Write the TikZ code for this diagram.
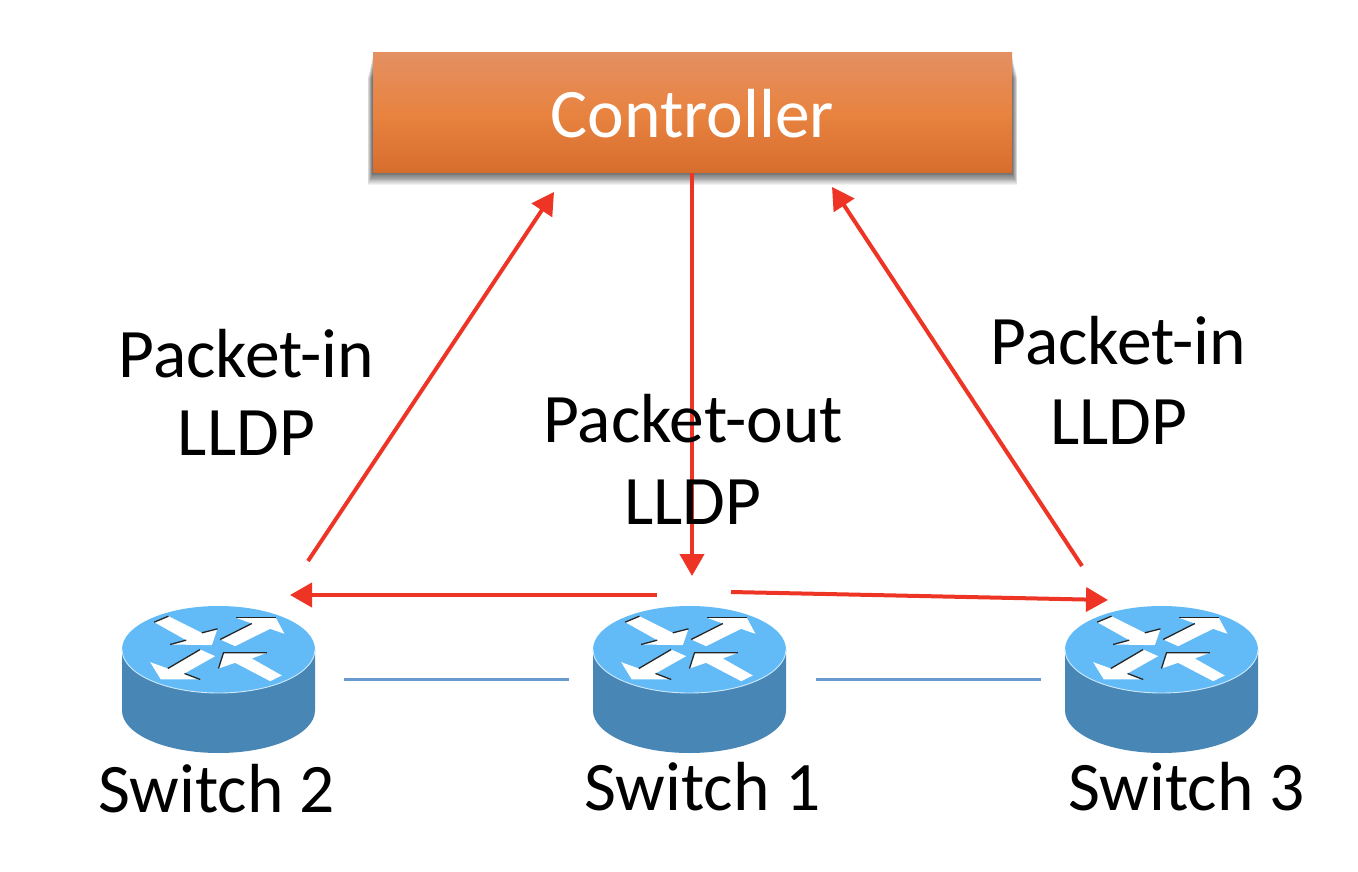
\documentclass[tikz,border=0pt]{standalone}
\usepackage{fontspec}
\setmainfont{Carlito}
\usetikzlibrary{arrows.meta}
\definecolor{redline}{HTML}{EE3424}
\definecolor{blueline}{HTML}{6A9BD0}
\definecolor{swtop}{HTML}{62BAF7}
\definecolor{swside}{HTML}{4886B5}
\definecolor{ctop}{HTML}{E49062}
\definecolor{cmid}{HTML}{E88340}
\definecolor{cbot}{HTML}{D76D2D}
\tikzset{
  redarrow/.style={draw=redline,line width=4pt,-{Triangle[length=22pt,width=24pt]}},
  blueconn/.style={draw=blueline,line width=3.6pt},
  label/.style={anchor=base,inner sep=0pt,font=\fontsize{69.5}{80}\selectfont,text=black},
  swbox/.style={inner sep=0pt,minimum width=193pt,minimum height=147pt,rectangle},
  swarrow/.style={fill=white,draw=none},
  swedge/.style={draw=black!85,line width=1.3pt},
}
\newcommand{\swicon}[1]{%
  \begin{scope}[shift={(#1,649.5)}]
    \fill[swside] (-96.5,0) -- (-96.5,61) arc[start angle=180,end angle=360,x radius=96.5pt,y radius=42.5pt] -- (96.5,0) -- cycle;
    \fill[swtop] (0,0) ellipse[x radius=96.5pt,y radius=43.5pt];
    \draw[white!70!swtop,line width=0.9pt] (-96.5,0) arc[start angle=180,end angle=360,x radius=96.5pt,y radius=43.5pt];
    \begin{scope}[shift={(-118.33,-70)},scale=0.3333]
      \fill[swarrow] (162,128) -- (205,110) -- (305,160) -- (352,148) -- (335,197) -- (210,195) -- (258,182) -- cycle;
      \fill[swarrow] (360,180) -- (455,132) -- (408,115) -- (527,115) -- (553,163) -- (510,148) -- (405,200) -- cycle;
      \fill[swarrow] (345,230) -- (300,210) -- (203,267) -- (150,248) -- (182,300) -- (300,300) -- (253,282) -- cycle;
      \fill[swarrow] (355,267) -- (370,220) -- (500,220) -- (455,237) -- (545,288) -- (510,305) -- (405,250) -- cycle;
      \draw[swedge] (162,128) -- (205,110);
      \draw[swedge] (305,160) -- (352,148);
      \draw[swedge] (210,195) -- (258,182);
      \draw[swedge] (408,115) -- (527,115);
      \draw[swedge] (360,180) -- (455,132);
      \draw[swedge] (300,210) -- (203,267);
      \draw[swedge] (253,282) -- (300,300);
      \draw[swedge] (355,267) -- (370,220) -- (500,220);
    \end{scope}
  \end{scope}}
\begin{document}
\begin{tikzpicture}[x=1pt,y=-1pt]
  \useasboundingbox (0,0) rectangle (1358,872);
  % controller shadow: layers widen and lengthen outward, fading at the rim
  \foreach \k in {0,1,...,15}{
    \fill[black,opacity=0.055] (373-0.35*\k,54+1.6*\k) rectangle (1012+0.35*\k,172+0.85*\k);
  }
  \node[rectangle,inner sep=0pt,minimum width=639pt,minimum height=120pt,
        top color=ctop,bottom color=cbot,middle color=cmid] (ctrl) at (692.5,113) {};
  % switches
  \swicon{218.5}
  \swicon{689.5}
  \swicon{1161.5}
  \node[swbox] (sw2) at (218.5,679.5) {};
  \node[swbox] (sw1) at (689.5,679.5) {};
  \node[swbox] (sw3) at (1161.5,679.5) {};
  % free ends of connectors
  \coordinate (a2s) at (308,561);
  \coordinate (a2e) at (554,192);
  \coordinate (a3s) at (1082,566);
  \coordinate (a3e) at (832,187);
  \coordinate (a1e) at (692,576);
  \coordinate (l2s) at (657,595);
  \coordinate (l2e) at (290,595);
  \coordinate (l3s) at (731,592);
  \coordinate (l3e) at (1108,600);
  % connectors
  \draw[blueconn,shorten <=29pt,shorten >=24pt] (sw2.east) -- (sw1.west);
  \draw[blueconn,shorten <=30pt,shorten >=24pt] (sw1.east) -- (sw3.west);
  \draw[redarrow] (a2s) -- (a2e);
  \draw[redarrow] (a3s) -- (a3e);
  \draw[redarrow] (ctrl.south -| a1e) -- (a1e);
  \draw[redarrow] (l2s) -- (l2e);
  \draw[redarrow] (l3s) -- (l3e);
  % texts
  \node[label,text=white] (tc) at (692.5,137.5) {Controller};
  \node[label] (t1) at (246.5,377.5) {Packet-in};
  \node[label] (t2) at (246.5,455.5) {LLDP};
  \node[label] (t3) at (1118.5,364.5) {Packet-in};
  \node[label] (t4) at (1119,444.5) {LLDP};
  \node[label] (t5) at (693,442.5) {Packet-out};
  \node[label] (t6) at (693,524.5) {LLDP};
  \node[label] (t7) at (216.5,812.5) {Switch 2};
  \node[label] (t8) at (702.5,810.5) {Switch 1};
  \node[label] (t9) at (1186.5,810.5) {Switch 3};
\end{tikzpicture}
\end{document}
